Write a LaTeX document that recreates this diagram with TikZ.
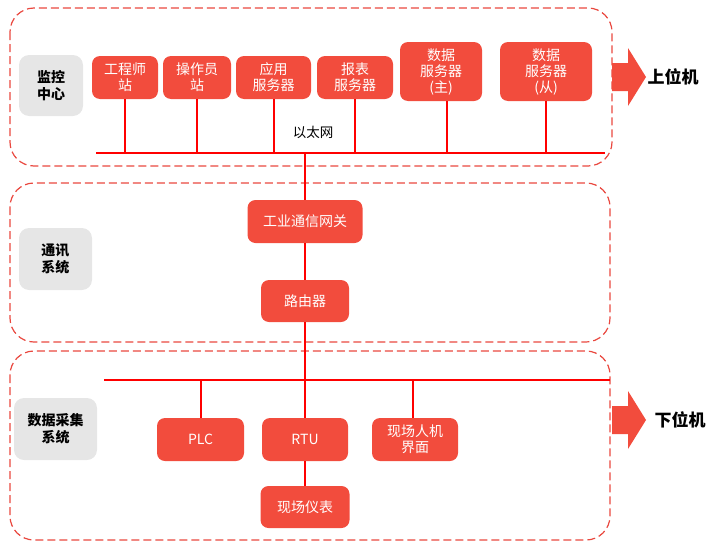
\documentclass[tikz,border=0pt]{standalone}
\usepackage{fontspec}
\setmainfont{Noto Sans CJK SC}
\usepackage{tikz}

\definecolor{boxred}{HTML}{F24C3D}
\definecolor{linered}{HTML}{FF0000}
\definecolor{zonered}{HTML}{E9483F}
\definecolor{labgray}{HTML}{E6E6E6}

\begin{document}
\begin{tikzpicture}[x=1pt,y=-1pt,
	dev/.style={rectangle,rounded corners=8pt,fill=boxred,text=white,align=center,
		inner sep=0pt,font=\fontsize{14}{16}\selectfont},
	layer/.style={rectangle,rounded corners=10pt,fill=labgray,align=center,
		inner sep=0pt,font=\bfseries\fontsize{14}{17}\selectfont},
	zone/.style={draw=zonered,line width=1.2pt,dash pattern=on 8pt off 4pt,rounded corners=24pt},
	bus/.style={draw=linered,line width=2pt}]
	
	\useasboundingbox (0,0) rectangle (707,549);
	
	\draw[zone] (10,8)   rectangle (612,166);
	\draw[zone] (10,183) rectangle (610,342);
	\draw[zone] (10,351) rectangle (610,540);
	
	\node[layer,minimum width=64pt,minimum height=61pt] (jk) at (51, 85.5)   {监控\\中心};
	\node[layer,minimum width=73pt,minimum height=62pt] (tx) at (55.5, 259)  {通讯\\系统};
	\node[layer,minimum width=83pt,minimum height=62pt] (sj) at (55.5, 429)  {数据采集\\系统};
	
	\node[dev,minimum width=66pt,minimum height=43pt] (gc) at (125, 77.5)   {工程师\\站};
	\node[dev,minimum width=68pt,minimum height=43pt] (cz) at (197, 77.5)   {操作员\\站};
	\node[dev,minimum width=75pt,minimum height=43pt] (yy) at (273.5, 77.5) {应用\\服务器};
	\node[dev,minimum width=76pt,minimum height=43pt] (bb) at (355, 77.5)   {报表\\服务器};
	\node[dev,minimum width=82pt,minimum height=59pt] (sz) at (441, 71.5)   {数据\\服务器\\(主)};
	\node[dev,minimum width=92pt,minimum height=59pt] (sc) at (546, 71.5)   {数据\\服务器\\(从)};
	
	\node[font=\fontsize{13.5}{15}\selectfont] (ytw) at (313, 132) {以太网};
	
	\node[dev,minimum width=115pt,minimum height=43pt] (wg)  at (305, 221.5) {工业通信网关};
	\node[dev,minimum width=88pt,minimum height=42pt]  (ly)  at (305, 301)   {路由器};
	
	\node[dev,minimum width=87pt,minimum height=43pt] (plc) at (200.5, 439.5) {PLC};
	\node[dev,minimum width=86pt,minimum height=43pt] (rtu) at (305, 439.5)   {RTU};
	\node[dev,minimum width=86pt,minimum height=43pt] (hmi) at (415, 439.5)   {现场人机\\界面};
	\node[dev,minimum width=89pt,minimum height=42pt] (yb)  at (305, 507)     {现场仪表};
	
	\coordinate (bus1l) at (96, 153);
	\coordinate (bus1r) at (605, 153);
	\coordinate (bus1t) at (305, 153);
	\coordinate (bus2l) at (104, 380);
	\coordinate (bus2r) at (610, 380);
	\coordinate (bus2t) at (305, 380);
	
	\path[bus] (bus1l) edge (bus1r);
	\path[bus] (gc) edge (gc |- bus1l);
	\path[bus] (cz) edge (cz |- bus1l);
	\path[bus] (yy) edge (yy |- bus1l);
	\path[bus] (bb) edge (bb |- bus1l);
	\path[bus] (sz.south -| 447,0) edge (447, 153);
	\path[bus] (sc) edge (sc |- bus1l);
	
	\path[bus] (bus1t) edge (wg);
	\path[bus] (wg) edge (ly);
	\path[bus] (ly) edge (bus2t);
	
	\path[bus] (bus2l) edge (bus2r);
	\path[bus] (bus2t) edge (rtu);
	\path[bus] (plc) edge (plc |- bus2l);
	\path[bus] (hmi.north -| 413,0) edge (413, 380);
	\path[bus] (rtu) edge (yb);
	
	% arrows to the level labels
	\fill[boxred] (612,63) -- (628,63) -- (628,48) -- (646,77) -- (628,106) -- (628,91) -- (612,91) -- cycle;
	\fill[boxred] (612,406) -- (628,406) -- (628,391) -- (646,420) -- (628,449) -- (628,434) -- (612,434) -- cycle;
	
	\node[font=\bfseries\fontsize{17}{19}\selectfont] (swj) at (673, 77)  {上位机};
	\node[font=\bfseries\fontsize{17}{19}\selectfont] (xwj) at (680, 420) {下位机};
	
\end{tikzpicture}
\end{document}
